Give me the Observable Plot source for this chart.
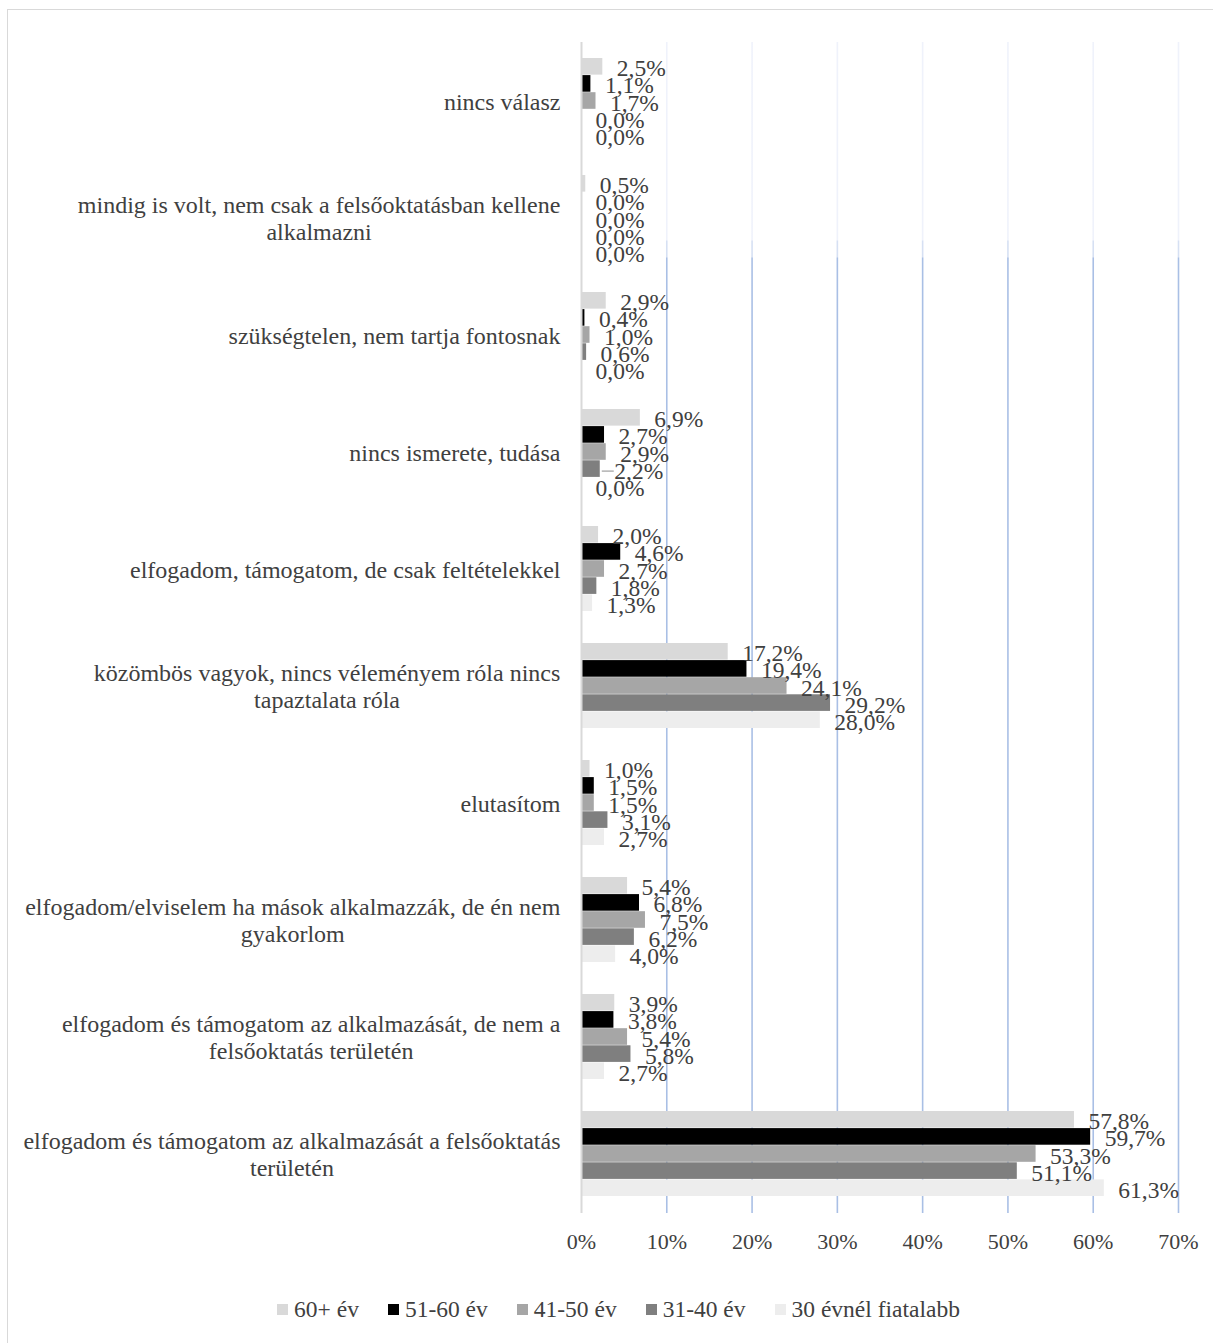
<!DOCTYPE html>
<html>
<head>
<meta charset="utf-8">
<script src="https://cdn.jsdelivr.net/npm/d3@7"></script>
<script src="https://cdn.jsdelivr.net/npm/@observablehq/plot@0.6"></script>
<style>
  html, body { margin: 0; padding: 0; background: #fff; overflow: hidden; }
  #frame {
    position: absolute; left: 7px; top: 9px; width: 1230px; height: 1360px;
    border: 1.5px solid #d9d9d9; box-sizing: border-box;
  }
  #chart { position: absolute; left: 0; top: 0; }
  #legend {
    position: absolute; left: 0; top: 1296px; width: 1237px;
    display: flex; justify-content: center; gap: 29px;
    font-family: "Liberation Serif", "Times New Roman", serif; font-size: 23.5px; color: #404040;
  }
  #legend .item { display: flex; align-items: center; }
  #legend .sw { width: 11px; height: 11px; margin-right: 6px; }
</style>
</head>
<body>
<div id="frame"></div>
<div id="chart"></div>
<div id="legend"></div>
<script>
// Answer categories, top to bottom
const categories = [
  "nincs válasz",
  "mindig is volt, nem csak a felsőoktatásban kellene\nalkalmazni",
  "szükségtelen, nem tartja fontosnak",
  "nincs ismerete, tudása",
  "elfogadom, támogatom, de csak feltételekkel",
  "közömbös vagyok, nincs véleményem róla nincs\ntapaztalata róla",
  "elutasítom",
  "elfogadom/elviselem ha mások alkalmazzák, de én nem\ngyakorlom",
  "elfogadom és támogatom az alkalmazását, de nem a\nfelsőoktatás területén",
  "elfogadom és támogatom az alkalmazását a felsőoktatás\nterületén"
];

// Age groups (series), in drawing order within each category
const seriesNames = ["60+ év", "51-60 év", "41-50 év", "31-40 év", "30 évnél fiatalabb"];
const seriesColors = ["#d9d9d9", "#000000", "#a6a6a6", "#7f7f7f", "#ededed"];

// Share of respondents (%) per category
const age60plus = [2.5, 0.5, 2.9, 6.9, 2.0, 17.2, 1.0, 5.4, 3.9, 57.8];
const age51to60 = [1.1, 0.0, 0.4, 2.7, 4.6, 19.4, 1.5, 6.8, 3.8, 59.7];
const age41to50 = [1.7, 0.0, 1.0, 2.9, 2.7, 24.1, 1.5, 7.5, 5.4, 53.3];
const age31to40 = [0.0, 0.0, 0.6, 2.2, 1.8, 29.2, 3.1, 6.2, 5.8, 51.1];
const ageUnder30 = [0.0, 0.0, 0.0, 0.0, 1.3, 28.0, 2.7, 4.0, 2.7, 61.3];

const xTicks = [0, 10, 20, 30, 40, 50, 60, 70];

const seriesValues = [age60plus, age51to60, age41to50, age31to40, ageUnder30];

// Layout
const width = 1213, height = 1280;
const marginLeft = 581, marginRight = 35, marginTop = 42, marginBottom = 67;
const padInner = 0.27, padOuter = 0.135;
const step = (height - marginTop - marginBottom) / (categories.length - padInner + 2 * padOuter);
const bandH = step * (1 - padInner);
const barH = bandH / seriesNames.length;

const font = "Liberation Serif, Times New Roman, serif";
const textColor = "#404040";
const labelSize = 23.5;
const fmt = v => v.toFixed(1).replace(".", ",") + "%";

const marks = [
  Plot.gridX(xTicks.filter(t => t > 0), {stroke: "url(#gridFade)", strokeOpacity: 1, strokeWidth: 1.6})
];

seriesValues.forEach((vals, i) => {
  const rows = categories.map((c, j) => ({cat: c, v: vals[j], s: seriesNames[i]}));
  marks.push(Plot.barX(rows, {
    x: "v", y: "cat", fill: seriesColors[i],
    insetTop: i * barH, insetBottom: (seriesNames.length - 1 - i) * barH
  }));
});

seriesValues.forEach((vals, i) => {
  const rows = categories.map((c, j) => ({cat: c, v: vals[j]}));
  marks.push(Plot.text(rows, {
    x: "v", y: "cat", text: d => fmt(d.v),
    textAnchor: "start", dx: 14, dy: (i - 2) * barH + 2,
    fill: textColor, fontSize: labelSize
  }));
});

// Short leader line from the 31-40 bar of "nincs ismerete" to its label
marks.push(Plot.ruleY([{cat: categories[3], v: age31to40[3]}], {
  y: "cat", x1: "v", x2: "v", dy: barH + 2,
  insetLeft: 2, insetRight: -14,
  stroke: "#a6a6a6", strokeWidth: 1.3
}));

marks.push(Plot.ruleX([0], {stroke: "#d9d9d9", strokeWidth: 2}));

const svg = Plot.plot({
  width, height, marginLeft, marginRight, marginTop, marginBottom,
  style: {fontFamily: font, fontSize: labelSize + "px", color: textColor, background: "transparent", overflow: "visible"},
  x: {domain: [0, 70], ticks: xTicks, tickFormat: d => d + "%", tickSize: 0, tickPadding: 20, label: null},
  y: {domain: categories, paddingInner: padInner, paddingOuter: padOuter, tickSize: 0, tickPadding: 21, label: null},
  marks: [
    ...marks,
    Plot.axisY({tickSize: 0, tickPadding: 21, lineHeight: 1.13, fill: textColor, fontSize: 24}),
    Plot.axisX({tickSize: 0, tickPadding: 20, tickFormat: d => d + "%", fill: textColor, fontSize: 22})
  ]
});

document.getElementById("chart").appendChild(svg);

// Gridline colour fades out towards the top of the plot
const ns = "http://www.w3.org/2000/svg";
const defs = document.createElementNS(ns, "defs");
const grad = document.createElementNS(ns, "linearGradient");
grad.setAttribute("id", "gridFade");
grad.setAttribute("gradientUnits", "userSpaceOnUse");
grad.setAttribute("x1", 0); grad.setAttribute("y1", 0);
grad.setAttribute("x2", 0); grad.setAttribute("y2", height);
[[0, "#eff2fb"], [240 / height, "#eff2fb"], [241 / height, "#d6e0f3"],
 [257 / height, "#d6e0f3"], [258 / height, "#a9bfe5"], [1, "#a9bfe5"]].forEach(([o, c]) => {
  const s = document.createElementNS(ns, "stop");
  s.setAttribute("offset", o); s.setAttribute("stop-color", c);
  grad.appendChild(s);
});
defs.appendChild(grad);
svg.insertBefore(defs, svg.firstChild);

// Centre the lines of each multi-line category label within its block
svg.querySelectorAll('g[aria-label="y-axis tick label"] text').forEach(t => {
  const spans = t.querySelectorAll("tspan");
  if (spans.length < 2) return;
  const w = t.getBBox().width;
  t.setAttribute("text-anchor", "middle");
  spans.forEach(s => s.setAttribute("x", -w / 2));
});

// Legend
const legend = document.getElementById("legend");
seriesNames.forEach((name, i) => {
  const item = document.createElement("div");
  item.className = "item";
  item.innerHTML = `<span class="sw" style="background:${seriesColors[i]}"></span><span>${name}</span>`;
  legend.appendChild(item);
});
</script>
</body>
</html>
